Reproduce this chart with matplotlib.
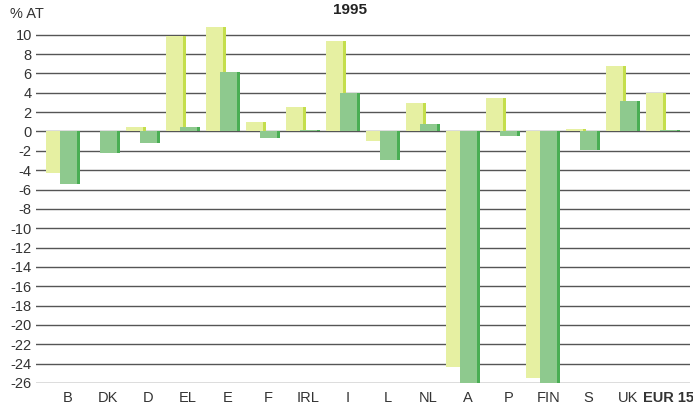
import matplotlib.pyplot as plt
import numpy as np

plt.rcParams["font.family"] = ["Liberation Sans", "DejaVu Sans"]

# Daten
countries = ["B", "DK", "D", "EL", "E", "F", "IRL", "I", "L", "NL",
             "A", "P", "FIN", "S", "UK", "EUR 15"]
light_vals = [-4.3, 0.0, 0.5, 9.9, 10.8, 1.0, 2.5, 9.4, -1.0, 2.9,
              -24.3, 3.5, -25.5, 0.3, 6.8, 4.0]
dark_vals = [-5.4, -2.2, -1.2, 0.5, 6.1, -0.7, 0.1, 4.0, -2.9, 0.8,
             -26.0, -0.5, -26.2, -1.9, 3.1, 0.2]
yticks = list(range(-26, 11, 2))

fig = plt.figure(figsize=(6.93, 4.04), dpi=100)
ax = fig.add_axes([0.052, 0.052, 0.944, 0.898])

x = np.arange(len(countries))
w = 0.44
side = 0.07

light_face = "#e6f0a2"
light_side = "#c4de4c"
dark_face = "#8ec98e"
dark_side = "#4aae54"

# helle Balken (links)
ax.bar(x - 0.33, light_vals, width=w, color=light_face, zorder=2)
ax.bar(x - 0.33 + w / 2 + side / 2 - 0.01, light_vals, width=side,
       color=light_side, zorder=2)
# dunkle Balken (rechts, leicht ueberlappend)
ax.bar(x + 0.02, dark_vals, width=w, color=dark_face, zorder=3)
ax.bar(x + 0.02 + w / 2 + side / 2 - 0.01, dark_vals, width=side,
       color=dark_side, zorder=3)

# Gitterlinien
for yv in yticks:
    ax.axhline(yv, color="#555555", linewidth=1.0, zorder=1)

ax.set_xlim(-0.8, 15.55)
ax.set_ylim(-26, 11.5)
ax.set_yticks(yticks)
ax.set_yticklabels([str(v) for v in yticks], fontsize=10.5, color="#333333")
ax.set_xticks(x)
ax.set_xticklabels(countries, fontsize=10.5, color="#333333")
ax.get_xticklabels()[-1].set_fontweight("bold")
ax.tick_params(axis="both", length=0, pad=3)
ax.tick_params(axis="x", pad=6)

for s in ax.spines.values():
    s.set_visible(False)

fig.text(0.015, 0.965, "% AT", fontsize=10.5, color="#333333", va="center")
fig.text(0.505, 0.975, "1995", fontsize=11, fontweight="bold",
         color="#222222", ha="center", va="center")

fig.savefig("out.png", dpi=100)
